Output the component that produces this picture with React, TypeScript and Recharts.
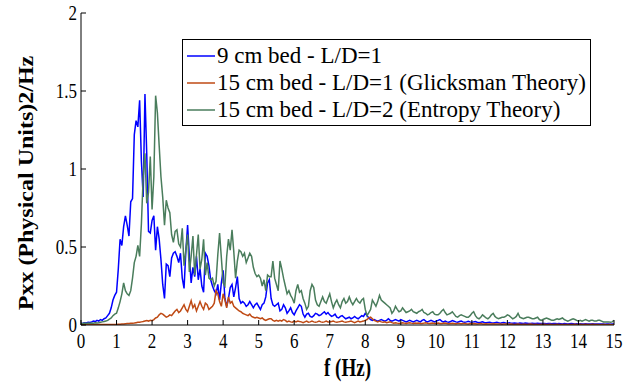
import { LineChart, Line, XAxis, YAxis, Legend } from 'recharts';

document.body.style.margin = '0';

const FONT = "'Times New Roman', 'Liberation Serif', 'DejaVu Serif', serif";
// axis text in this figure is drawn a little taller than wide
const TEXT_STRETCH = 1.27;

// PSD bins are 0.05 Hz apart, 0–15 Hz; one row of values per hertz
const F_STEP = 0.05;

const bed9 = [
  0.01, 0.012, 0.015, 0.013, 0.018, 0.016, 0.02, 0.025, 0.022, 0.03, 0.025, 0.035, 0.03, 0.04, 0.045, 0.06, 0.075, 0.11, 0.16, 0.19,
  0.21, 0.36, 0.55, 0.51, 0.63, 0.7, 0.64, 0.57, 0.79, 0.81, 1.22, 1.31, 1.27, 1.44, 1.05, 0.82, 1.48, 1.1, 0.6, 0.59,
  0.67, 0.7, 0.48, 0.63, 0.55, 0.42, 0.26, 0.17, 0.39, 0.38, 0.31, 0.43, 0.46, 0.47, 0.44, 0.4, 0.46, 0.3, 0.235, 0.47,
  0.64, 0.44, 0.27, 0.37, 0.31, 0.44, 0.29, 0.36, 0.25, 0.21, 0.46, 0.44, 0.38, 0.29, 0.25, 0.22, 0.2, 0.26, 0.16, 0.27,
  0.35, 0.17, 0.12, 0.17, 0.24, 0.26, 0.18, 0.24, 0.31, 0.17, 0.14, 0.15, 0.14, 0.12, 0.13, 0.15, 0.13, 0.11, 0.13, 0.14,
  0.12, 0.1, 0.13, 0.14, 0.18, 0.27, 0.29, 0.17, 0.13, 0.12, 0.13, 0.14, 0.09, 0.1, 0.13, 0.11, 0.075, 0.09, 0.11, 0.08,
  0.065, 0.09, 0.11, 0.13, 0.12, 0.07, 0.05, 0.07, 0.075, 0.055, 0.05, 0.06, 0.075, 0.07, 0.06, 0.065, 0.075, 0.085, 0.07, 0.08,
  0.065, 0.055, 0.06, 0.07, 0.05, 0.045, 0.055, 0.06, 0.05, 0.04, 0.045, 0.05, 0.04, 0.045, 0.055, 0.045, 0.04, 0.05, 0.06, 0.055,
  0.075, 0.06, 0.045, 0.035, 0.03, 0.035, 0.03, 0.025, 0.03, 0.035, 0.03, 0.025, 0.03, 0.04, 0.03, 0.025, 0.03, 0.035, 0.03, 0.025,
  0.035, 0.03, 0.025, 0.02, 0.025, 0.03, 0.025, 0.02, 0.025, 0.03, 0.025, 0.02, 0.03, 0.035, 0.025, 0.02, 0.025, 0.03, 0.025, 0.02,
  0.025, 0.03, 0.035, 0.025, 0.02, 0.025, 0.02, 0.018, 0.022, 0.028, 0.024, 0.02, 0.018, 0.022, 0.025, 0.02, 0.018, 0.02, 0.024, 0.02,
  0.018, 0.02, 0.022, 0.018, 0.015, 0.017, 0.02, 0.016, 0.014, 0.016, 0.018, 0.015, 0.013, 0.015, 0.017, 0.014, 0.012, 0.014, 0.016, 0.013,
  0.012, 0.014, 0.012, 0.011, 0.013, 0.012, 0.01, 0.012, 0.011, 0.01, 0.012, 0.011, 0.01, 0.009, 0.011, 0.01, 0.009, 0.011, 0.01, 0.009,
  0.01, 0.009, 0.008, 0.01, 0.009, 0.008, 0.009, 0.01, 0.008, 0.009, 0.008, 0.007, 0.009, 0.008, 0.007, 0.008, 0.009, 0.008, 0.007, 0.008,
  0.007, 0.008, 0.007, 0.006, 0.008, 0.007, 0.006, 0.007, 0.008, 0.007, 0.006, 0.007, 0.006, 0.007, 0.006, 0.005, 0.007, 0.006, 0.005, 0.006,
  0.006,
];

const bed15Glicksman = [
  0.002, 0.002, 0.002, 0.002, 0.002, 0.002, 0.002, 0.003, 0.003, 0.003, 0.003, 0.003, 0.003, 0.004, 0.004, 0.004, 0.004, 0.004, 0.004, 0.004,
  0.004, 0.005, 0.005, 0.006, 0.007, 0.008, 0.009, 0.01, 0.011, 0.012, 0.013, 0.015, 0.017, 0.018, 0.02, 0.022, 0.025, 0.028, 0.025, 0.03,
  0.028, 0.035, 0.045, 0.05, 0.065, 0.075, 0.07, 0.06, 0.05, 0.055, 0.065, 0.06, 0.075, 0.09, 0.1, 0.08, 0.09, 0.11, 0.13, 0.1,
  0.085, 0.12, 0.155, 0.11, 0.13, 0.09, 0.12, 0.15, 0.12, 0.1, 0.14, 0.13, 0.1, 0.11, 0.12, 0.14, 0.22, 0.2, 0.15, 0.12,
  0.2, 0.16, 0.11, 0.18, 0.14, 0.15, 0.12, 0.11, 0.1, 0.09, 0.085, 0.075, 0.07, 0.065, 0.06, 0.07, 0.055, 0.05, 0.045, 0.05,
  0.045, 0.04, 0.045, 0.035, 0.03, 0.035, 0.04, 0.04, 0.03, 0.025, 0.03, 0.025, 0.03, 0.025, 0.035, 0.03, 0.02, 0.025, 0.02, 0.018,
  0.025, 0.02, 0.025, 0.022, 0.02, 0.015, 0.02, 0.025, 0.018, 0.02, 0.025, 0.02, 0.018, 0.02, 0.025, 0.02, 0.018, 0.02, 0.025, 0.02,
  0.02, 0.022, 0.025, 0.02, 0.018, 0.02, 0.022, 0.025, 0.02, 0.018, 0.02, 0.022, 0.025, 0.02, 0.015, 0.02, 0.025, 0.02, 0.022, 0.025,
  0.03, 0.035, 0.045, 0.05, 0.04, 0.03, 0.025, 0.02, 0.025, 0.02, 0.018, 0.02, 0.015, 0.018, 0.02, 0.015, 0.012, 0.015, 0.012, 0.01,
  0.012, 0.014, 0.012, 0.01, 0.013, 0.015, 0.012, 0.01, 0.012, 0.011, 0.013, 0.01, 0.009, 0.012, 0.014, 0.011, 0.009, 0.011, 0.012, 0.01,
  0.011, 0.013, 0.01, 0.009, 0.011, 0.012, 0.01, 0.008, 0.01, 0.011, 0.009, 0.008, 0.01, 0.009, 0.008, 0.009, 0.01, 0.008, 0.007, 0.009,
  0.008, 0.009, 0.008, 0.007, 0.008, 0.009, 0.007, 0.006, 0.008, 0.007, 0.006, 0.007, 0.008, 0.006, 0.006, 0.007, 0.006, 0.005, 0.006, 0.007,
  0.006, 0.005, 0.006, 0.005, 0.004, 0.005, 0.006, 0.005, 0.004, 0.005, 0.005, 0.004, 0.005, 0.006, 0.005, 0.004, 0.005, 0.004, 0.004, 0.005,
  0.004, 0.005, 0.004, 0.004, 0.005, 0.004, 0.003, 0.004, 0.005, 0.004, 0.004, 0.003, 0.004, 0.004, 0.003, 0.004, 0.004, 0.003, 0.004, 0.003,
  0.003, 0.004, 0.003, 0.003, 0.004, 0.003, 0.003, 0.003, 0.004, 0.003, 0.003, 0.003, 0.002, 0.003, 0.003, 0.003, 0.002, 0.003, 0.003, 0.002,
  0.003,
];

const bed15Entropy = [
  0.01, 0.01, 0.012, 0.01, 0.012, 0.011, 0.013, 0.012, 0.014, 0.013, 0.015, 0.018, 0.02, 0.022, 0.025, 0.03, 0.038, 0.045, 0.06, 0.07,
  0.075, 0.11, 0.15, 0.2, 0.27, 0.22, 0.2, 0.19, 0.22, 0.3, 0.4, 0.44, 0.51, 0.44, 0.65, 0.95, 1.1, 0.78, 0.85, 1.08,
  0.74, 0.95, 1.47, 1.36, 1.15, 0.95, 0.82, 0.64, 0.8, 0.75, 0.72, 0.58, 0.53, 0.6, 0.61, 0.52, 0.5, 0.62, 0.38, 0.48,
  0.58, 0.34, 0.44, 0.57, 0.32, 0.45, 0.58, 0.36, 0.42, 0.55, 0.32, 0.4, 0.3, 0.29, 0.3, 0.25, 0.28, 0.45, 0.59, 0.43,
  0.27, 0.25, 0.44, 0.55, 0.48, 0.61, 0.47, 0.3, 0.41, 0.48, 0.47, 0.44, 0.46, 0.4, 0.43, 0.46, 0.44, 0.37, 0.33, 0.31,
  0.32, 0.3, 0.25, 0.29, 0.22, 0.32, 0.31, 0.31, 0.41, 0.3, 0.26, 0.22, 0.41, 0.36, 0.3, 0.25, 0.2, 0.22, 0.19, 0.17,
  0.14, 0.22, 0.26, 0.21, 0.22, 0.17, 0.14, 0.1, 0.12, 0.22, 0.26, 0.24, 0.16, 0.13, 0.12, 0.15, 0.18, 0.15, 0.14, 0.17,
  0.2, 0.15, 0.11, 0.14, 0.16, 0.13, 0.11, 0.15, 0.17, 0.14, 0.15, 0.18, 0.15, 0.13, 0.15, 0.17, 0.15, 0.14, 0.16, 0.17,
  0.1, 0.06, 0.08, 0.1, 0.16, 0.14, 0.12, 0.15, 0.19, 0.16, 0.15, 0.14, 0.13, 0.12, 0.11, 0.075, 0.09, 0.12, 0.1, 0.085,
  0.09, 0.11, 0.095, 0.08, 0.085, 0.09, 0.1, 0.085, 0.08, 0.075, 0.085, 0.09, 0.1, 0.08, 0.075, 0.065, 0.07, 0.08, 0.085, 0.07,
  0.065, 0.065, 0.075, 0.09, 0.1, 0.08, 0.065, 0.07, 0.075, 0.085, 0.07, 0.055, 0.05, 0.06, 0.065, 0.06, 0.055, 0.05, 0.05, 0.06,
  0.075, 0.085, 0.06, 0.045, 0.04, 0.05, 0.065, 0.055, 0.045, 0.04, 0.05, 0.065, 0.075, 0.055, 0.045, 0.04, 0.045, 0.05, 0.05, 0.055,
  0.065, 0.06, 0.05, 0.04, 0.045, 0.055, 0.075, 0.05, 0.045, 0.04, 0.045, 0.05, 0.05, 0.045, 0.04, 0.04, 0.045, 0.05, 0.035, 0.03,
  0.035, 0.04, 0.045, 0.04, 0.035, 0.03, 0.03, 0.035, 0.04, 0.035, 0.04, 0.045, 0.035, 0.03, 0.025, 0.03, 0.035, 0.04, 0.035, 0.03,
  0.025, 0.03, 0.025, 0.03, 0.035, 0.03, 0.025, 0.03, 0.03, 0.025, 0.025, 0.03, 0.03, 0.025, 0.02, 0.02, 0.02, 0.02, 0.018, 0.02,
  0.03,
];

const X_TICKS = [0, 1, 2, 3, 4, 5, 6, 7, 8, 9, 10, 11, 12, 13, 14, 15];
const Y_TICKS = [0, 0.5, 1, 1.5, 2];

const SERIES = [
  { key: 'bed9', name: '9 cm bed - L/D=1', color: '#0000ff' },
  { key: 'glicksman', name: '15 cm bed - L/D=1 (Glicksman Theory)', color: '#bf4a14' },
  { key: 'entropy', name: '15 cm bed - L/D=2 (Entropy Theory)', color: '#4a7d5c' },
];

const rows = bed9.map((v, i) => ({
  f: Math.round(i * F_STEP * 100) / 100,
  bed9: v,
  glicksman: bed15Glicksman[i] ?? null,
  entropy: bed15Entropy[i] ?? null,
}));

const TICK_LEN = 5;

const BottomTick = ({ x, y, payload }: any) => (
  <g>
    <line x1={x} x2={x} y1={y} y2={y - TICK_LEN} stroke="#000" />
    <text
      transform={`translate(${x},${y + 23}) scale(1,${TEXT_STRETCH})`}
      textAnchor="middle"
      fontFamily={FONT}
      fontSize={17}
      fill="#000"
    >
      {payload.value}
    </text>
  </g>
);

const LeftTick = ({ x, y, payload }: any) => (
  <g>
    <line x1={x} x2={x + TICK_LEN} y1={y} y2={y} stroke="#000" />
    <text
      transform={`translate(${x - 4},${y + 7}) scale(1,${TEXT_STRETCH})`}
      textAnchor="end"
      fontFamily={FONT}
      fontSize={17}
      fill="#000"
    >
      {payload.value}
    </text>
  </g>
);

const TopTick = ({ x, y }: any) => <line x1={x} x2={x} y1={y} y2={y + TICK_LEN} stroke="#000" />;
const RightTick = ({ x, y }: any) => <line x1={x} x2={x - TICK_LEN} y1={y} y2={y} stroke="#000" />;

const XTitle = ({ viewBox }: any) => (
  <text
    transform={`translate(${viewBox.x + viewBox.width / 2},${viewBox.y + 51}) scale(1,${TEXT_STRETCH})`}
    textAnchor="middle"
    fontFamily={FONT}
    fontWeight="bold"
    fontSize={19}
    fill="#000"
  >
    f (Hz)
  </text>
);

const YTitle = ({ viewBox }: any) => (
  <text
    transform={`translate(${viewBox.x + 33},${viewBox.y + viewBox.height / 2 + 14}) rotate(-90) scale(1.2,1)`}
    textAnchor="middle"
    fontFamily={FONT}
    fontWeight="bold"
    fontSize={20}
    fill="#000"
  >
    Pxx (Physical Units)2/Hz
  </text>
);

const LegendBox = () => (
  <div
    style={{
      border: '1px solid #000',
      background: '#fff',
      padding: '2px 4px 2px 4px',
      fontFamily: FONT,
      fontSize: 23,
      lineHeight: '27px',
      color: '#000',
      whiteSpace: 'nowrap',
    }}
  >
    {SERIES.map((s) => (
      <div key={s.key} style={{ display: 'flex', alignItems: 'center', height: 27 }}>
        <svg width={28} height={4} style={{ marginRight: 2 }}>
          <line x1={0} x2={28} y1={2} y2={2} stroke={s.color} strokeWidth={1.5} />
        </svg>
        <span>{s.name}</span>
      </div>
    ))}
  </div>
);

export default function App() {
  return (
    <LineChart width={626} height={384} data={rows} margin={{ top: 13, right: 12, bottom: 0, left: 0 }}>
      <XAxis
        type="number"
        dataKey="f"
        domain={[0, 15]}
        ticks={X_TICKS}
        allowDataOverflow
        height={59}
        tickSize={0}
        tickMargin={0}
        tickLine={false}
        axisLine={{ stroke: '#000' }}
        tick={<BottomTick />}
        label={XTitle}
      />
      <XAxis
        xAxisId="top"
        orientation="top"
        type="number"
        dataKey="f"
        domain={[0, 15]}
        ticks={X_TICKS}
        allowDataOverflow
        height={0}
        tickSize={0}
        tickMargin={0}
        tickLine={false}
        axisLine={{ stroke: '#000' }}
        tick={<TopTick />}
      />
      <YAxis
        type="number"
        domain={[0, 2]}
        ticks={Y_TICKS}
        allowDataOverflow
        width={81}
        tickSize={0}
        tickMargin={0}
        tickLine={false}
        axisLine={{ stroke: '#000' }}
        tick={<LeftTick />}
        label={YTitle}
      />
      <YAxis
        yAxisId="right"
        orientation="right"
        type="number"
        domain={[0, 2]}
        ticks={Y_TICKS}
        allowDataOverflow
        width={0}
        tickSize={0}
        tickMargin={0}
        tickLine={false}
        axisLine={{ stroke: '#000' }}
        tick={<RightTick />}
      />
      <Legend
        layout="vertical"
        align="center"
        verticalAlign="middle"
        content={<LegendBox />}
        wrapperStyle={{ left: 182, top: 39, width: 'auto', height: 'auto' }}
      />
      {SERIES.map((s) => (
        <Line
          key={s.key}
          dataKey={s.key}
          name={s.name}
          type="linear"
          stroke={s.color}
          strokeWidth={1.5}
          dot={false}
          activeDot={false}
          isAnimationActive={false}
        />
      ))}
    </LineChart>
  );
}
